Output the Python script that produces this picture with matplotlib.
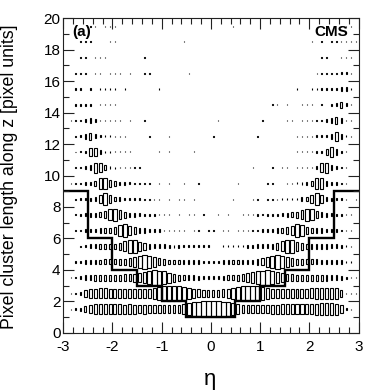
import numpy as np
import matplotlib
matplotlib.use("Agg")
import matplotlib.pyplot as plt
from matplotlib.ticker import MultipleLocator

plt.rcParams['font.family'] = ['Liberation Sans', 'DejaVu Sans']
plt.rcParams['axes.unicode_minus'] = False

# ---------------- data ----------------
eta_min, eta_max, n_eta = -3.0, 3.0, 60
len_min, len_max = 0, 20

# bin contents (relative units, max = 100) for each cluster-length bin, 60 eta bins
len_0_1 = [0] * 60
len_1_2 = [0, 0.5, 1, 4, 16, 30, 38, 42, 42, 38,
           36, 36, 34, 36, 34, 30, 34, 30, 30, 27,
           27, 25, 27, 30, 36, 61, 77, 86, 94, 100,
           100, 94, 90, 81, 64, 38, 30, 27, 25, 27,
           30, 30, 34, 34, 36, 36, 38, 38, 42, 42,
           46, 49, 52, 52, 52, 49, 25, 1.5, 0.5, 0]
len_2_3 = [0, 0.5, 1, 5, 20, 36, 38, 42, 42, 38,
           36, 36, 34, 34, 34, 34, 36, 38, 46, 61,
           81, 94, 100, 94, 77, 56, 38, 27, 20, 18,
           18, 20, 25, 36, 52, 72, 86, 94, 94, 81,
           61, 46, 38, 36, 34, 34, 36, 36, 38, 38,
           42, 46, 49, 52, 52, 46, 16, 1, 0.5, 0.25]
len_3_4 = [0, 0.25, 1, 4, 9, 12, 14, 14, 16, 16,
           16, 16, 18, 20, 25, 36, 52, 72, 85, 81,
           64, 42, 25, 16, 12, 9, 8, 6, 5, 4,
           4, 5, 6, 8, 10, 14, 20, 30, 46, 64,
           81, 85, 72, 52, 34, 23, 18, 16, 16, 16,
           16, 14, 14, 13, 12, 10, 6, 1.5, 0.5, 0.25]
len_4_5 = [0, 0, 0.5, 2.2, 6, 9, 9, 9, 10, 10,
           10, 12, 16, 23, 38, 67, 81, 64, 38, 20,
           12, 9, 7, 6, 5, 5, 4, 4, 3.2, 3.2,
           3.2, 3.2, 4, 4, 5, 5, 6, 7, 9, 12,
           20, 38, 64, 81, 67, 38, 23, 16, 12, 10,
           10, 10, 9, 9, 9, 8, 5, 1, 0.5, 0.25]
len_5_6 = [0, 0, 0, 0.5, 2.2, 6, 8, 9, 9, 10,
           12, 20, 38, 72, 64, 36, 20, 12, 8, 6,
           5, 4, 4, 3.2, 2.2, 2.2, 1.5, 1.5, 1, 1,
           0, 0, 1, 1.5, 1.5, 2.2, 2.2, 3.2, 4, 5,
           6, 8, 12, 20, 38, 72, 64, 36, 20, 12,
           9, 9, 9, 9, 8, 6, 4, 1, 0.5, 0]
len_6_7 = [0, 0, 0.5, 1, 2.2, 5, 6, 8, 9, 10,
           16, 56, 61, 36, 20, 12, 8, 5, 3.2, 2.2,
           1.5, 1, 1, 0.5, 0.5, 0, 0.5, 0.5, 0, 0.5,
           0.5, 0, 0.5, 0.5, 0, 0.5, 0.5, 1, 1, 1.5,
           2.2, 3.2, 5, 8, 12, 20, 36, 61, 56, 16,
           10, 9, 8, 6, 5, 2.2, 1, 0.5, 0.5, 0]
len_7_8 = [0, 0, 0.5, 1.5, 3.2, 5, 6, 9, 20, 52,
           56, 30, 14, 8, 5, 3.2, 2.2, 1.5, 1, 0.5,
           0.5, 0.5, 0, 0.5, 0, 0.5, 0.5, 0, 0.5, 0,
           0, 0.5, 0, 0.5, 0, 0, 0.5, 0.5, 0.5, 1,
           0.5, 1, 1.5, 2.2, 3.2, 5, 9, 14, 30, 56,
           52, 20, 9, 6, 4, 2.2, 1, 0.5, 0.5, 0]
len_8_9 = [0, 0.25, 0.5, 1, 2.2, 4, 9, 30, 56, 30,
           9, 5, 3.2, 2.2, 1.5, 1, 0.5, 0.5, 0.5, 0.5,
           0, 0.5, 0, 0.5, 0.5, 0, 0.5, 0, 0, 0,
           0, 0, 0, 0, 0.5, 0, 0, 0, 0.5, 0.5,
           0, 0.5, 0.5, 0.5, 1, 1.5, 2.2, 3.2, 5, 9,
           30, 56, 30, 9, 4, 2.2, 1, 0.5, 0, 0.5]
len_9_10 = [0, 0.25, 0.5, 1, 2.2, 5, 12, 46, 46, 16,
            8, 4, 2.2, 1.5, 1, 0.5, 0.5, 0.5, 0, 0.5,
            0, 0.5, 0, 0, 0.5, 0, 0, 0.5, 0, 0,
            0, 0, 0, 0, 0, 0.5, 0, 0, 0, 0,
            0, 0.5, 0.5, 0, 0, 0.5, 1, 1.5, 2.2, 4,
            12, 46, 46, 12, 4, 2.2, 1, 0.5, 0, 0]
len_10_11 = [0, 0, 0.5, 1, 2.2, 9, 42, 36, 9, 3.2,
             1.5, 1, 0.5, 0.5, 0.5, 0.5, 0, 0, 0, 0,
             0, 0, 0, 0, 0, 0, 0, 0, 0, 0,
             0, 0, 0, 0, 0, 0, 0, 0, 0.5, 0,
             0, 0, 0.5, 0, 0.5, 0.5, 0, 0.5, 0.5, 0.5,
             1, 2.2, 30, 42, 9, 2.2, 1, 0.5, 0, 0]
len_11_12 = [0, 0, 0.25, 0.5, 2.2, 25, 30, 6, 2.2, 1,
             0.5, 0.5, 0.5, 0.5, 0, 0, 0, 0, 0, 0.5,
             0, 0.5, 0, 0, 0, 0, 0.5, 0, 0, 0,
             0, 0, 0, 0, 0, 0, 0, 0, 0, 0,
             0, 0, 0, 0, 0, 0, 0, 0.5, 0.5, 0.5,
             0.5, 1, 2.2, 16, 38, 12, 2.2, 0.5, 0, 0]
len_12_13 = [0, 0, 0.5, 1.5, 9, 20, 6, 2.2, 1, 1,
             0.5, 0.5, 0.5, 0, 0, 0, 0, 0.5, 0, 0,
             0, 0.5, 0, 0, 0, 0, 0, 0, 0, 0,
             0.5, 0, 0, 0, 0, 0, 0, 0, 0, 0.5,
             0, 0, 0, 0, 0, 0, 0, 0.5, 0.5, 0.5,
             0.5, 1, 1.5, 2.2, 9, 30, 9, 1, 0.5, 0]
len_13_14 = [0, 0.5, 0.5, 1, 5, 9, 2.2, 1, 1, 0.5,
             0.5, 0.5, 0, 0.5, 0, 0, 0.5, 0, 0, 0,
             0, 0, 0, 0, 0, 0, 0, 0, 0, 0,
             0, 0.5, 0, 0, 0, 0, 0, 0, 0, 0,
             0.5, 0, 0, 0, 0, 0.5, 0.5, 0, 0.5, 0.5,
             0.5, 1, 1, 2.2, 9, 20, 9, 1, 0.5, 0]
len_14_15 = [0, 0, 1, 2.2, 2.2, 1, 0, 0.5, 0.5, 0.5,
             0.5, 0, 0, 0, 0, 0, 0, 0, 0, 0,
             0, 0, 0, 0, 0, 0, 0, 0, 0, 0,
             0, 0, 0, 0, 0, 0, 0, 0, 0, 0,
             0, 0, 0.5, 0.5, 0, 0.5, 0, 0, 0.5, 0.5,
             0.5, 0, 0.5, 0, 1.5, 4, 14, 4, 0.5, 0]
len_15_16 = [0, 0, 0.5, 1.5, 0, 0.5, 0, 0.5, 0.5, 0.5,
             0.5, 0, 0.5, 0, 0, 0, 0, 0, 0, 0.5,
             0, 0, 0, 0, 0, 0, 0, 0, 0, 0,
             0, 0, 0, 0, 0, 0, 0, 0, 0, 0,
             0, 0, 0, 0, 0, 0, 0, 0.5, 0, 0,
             0.5, 0.5, 0.5, 1, 1.5, 2.2, 4, 4, 0.5, 0]
len_16_17 = [0, 0, 0.5, 0.5, 0.5, 0, 0.5, 0.5, 0, 0.5,
             0.5, 0.5, 0, 0.5, 0, 0, 0.5, 0.5, 0, 0,
             0, 0, 0, 0, 0, 0.5, 0, 0, 0, 0,
             0, 0, 0, 0, 0, 0, 0, 0, 0, 0,
             0, 0, 0, 0, 0, 0, 0, 0, 0, 0,
             0, 0.5, 0.5, 0.5, 0.5, 1, 1.5, 2.2, 0.5, 0]
len_17_18 = [0, 0, 0, 0.5, 0.5, 0, 0.5, 0.5, 0.5, 0,
             0, 0, 0, 0, 0, 0, 0.5, 0, 0, 0,
             0, 0, 0, 0, 0, 0, 0, 0, 0, 0,
             0, 0, 0, 0, 0, 0, 0, 0, 0, 0,
             0, 0, 0, 0, 0, 0, 0, 0, 0, 0,
             0, 0, 0.5, 0.5, 0, 0, 0.5, 0.5, 0.5, 0]
len_18_19 = [0, 0, 0, 0.5, 0.5, 0.5, 0, 0, 0, 0.5,
             0.5, 0, 0, 0, 0, 0, 0, 0, 0, 0,
             0, 0, 0, 0, 0.5, 0, 0, 0, 0, 0,
             0, 0, 0, 0, 0, 0, 0, 0, 0, 0,
             0, 0, 0, 0, 0, 0, 0, 0, 0, 0,
             0.5, 0, 0.5, 0, 0.5, 0.5, 0.5, 0.5, 0.5, 0.5]
len_19_20 = [0, 0, 0, 0, 0, 0.5, 0.5, 0, 0.5, 0.5,
             0.5, 0, 0, 0, 0, 0, 0, 0, 0, 0,
             0, 0, 0, 0, 0, 0, 0, 0, 0, 0,
             0, 0, 0, 0, 0.5, 0, 0, 0, 0, 0,
             0, 0, 0, 0, 0, 0, 0, 0, 0, 0,
             0, 0, 0, 0, 0, 0, 0.5, 0.5, 0.5, 0]

# cluster-length cut (step line)
cut_eta_edges = [-3.0, -2.5, -2.0, -1.5, -1.0, -0.5, 0.5, 1.0, 1.5, 2.0, 2.5, 3.0]
cut_length = [9, 6, 4, 3, 2, 1, 2, 3, 4, 6, 9]

rows = [len_0_1, len_1_2, len_2_3, len_3_4, len_4_5, len_5_6, len_6_7, len_7_8,
        len_8_9, len_9_10, len_10_11, len_11_12, len_12_13, len_13_14, len_14_15,
        len_15_16, len_16_17, len_17_18, len_18_19, len_19_20]

# ---------------- plot ----------------
fig = plt.figure(figsize=(3.74, 3.92), dpi=100)
ax = fig.add_axes([63.3 / 374, 1 - 332.7 / 392, (358.5 - 63.3) / 374, (332.7 - 18.3) / 392])

eta_edges = np.linspace(eta_min, eta_max, n_eta + 1)
eta_c = 0.5 * (eta_edges[:-1] + eta_edges[1:])
eta_w = eta_edges[1] - eta_edges[0]
Z = np.array(rows, dtype=float)
zmax = Z.max()

for j, row in enumerate(Z):
    yc = len_min + j + 0.5
    m = row > 0
    if not m.any():
        continue
    r = np.sqrt(row[m] / zmax)      # ROOT BOX option scaling
    ax.bar(eta_c[m], r * 1.0, width=eta_w * r, bottom=yc - r / 2,
           fill=False, edgecolor='black', linewidth=0.8, align='center')

ax.stairs(cut_length, cut_eta_edges, baseline=None, color='black', linewidth=1.7)

ax.set_xlim(eta_min, eta_max)
ax.set_ylim(len_min, len_max)
ax.xaxis.set_major_locator(MultipleLocator(1))
ax.xaxis.set_minor_locator(MultipleLocator(0.2))
ax.yaxis.set_major_locator(MultipleLocator(2))
ax.yaxis.set_minor_locator(MultipleLocator(1))
ax.tick_params(which='both', direction='in', top=True, right=True, width=0.8, colors='#222222',
               labelcolor='black', labelsize=11)
ax.tick_params(which='major', length=8)
ax.tick_params(which='minor', length=4)
ax.tick_params(axis='x', pad=5)
ax.tick_params(axis='y', pad=2)
for sp in ax.spines.values():
    sp.set_linewidth(0.8)
    sp.set_color('#222222')

fig.text(10 / 374, 1 - 177 / 392, 'Pixel cluster length along z [pixel units]',
         rotation=90, ha='center', va='center', fontsize=12.8)
fig.text(210 / 374, 1 - 380 / 392, 'η', ha='center', va='center', fontsize=16)
ax.text(0.03, 0.955, '(a)', transform=ax.transAxes, ha='left', va='center',
        fontsize=11, fontweight='bold')
ax.text(0.965, 0.955, 'CMS', transform=ax.transAxes, ha='right', va='center',
        fontsize=11, fontweight='bold')

fig.savefig('out.png', dpi=100)
